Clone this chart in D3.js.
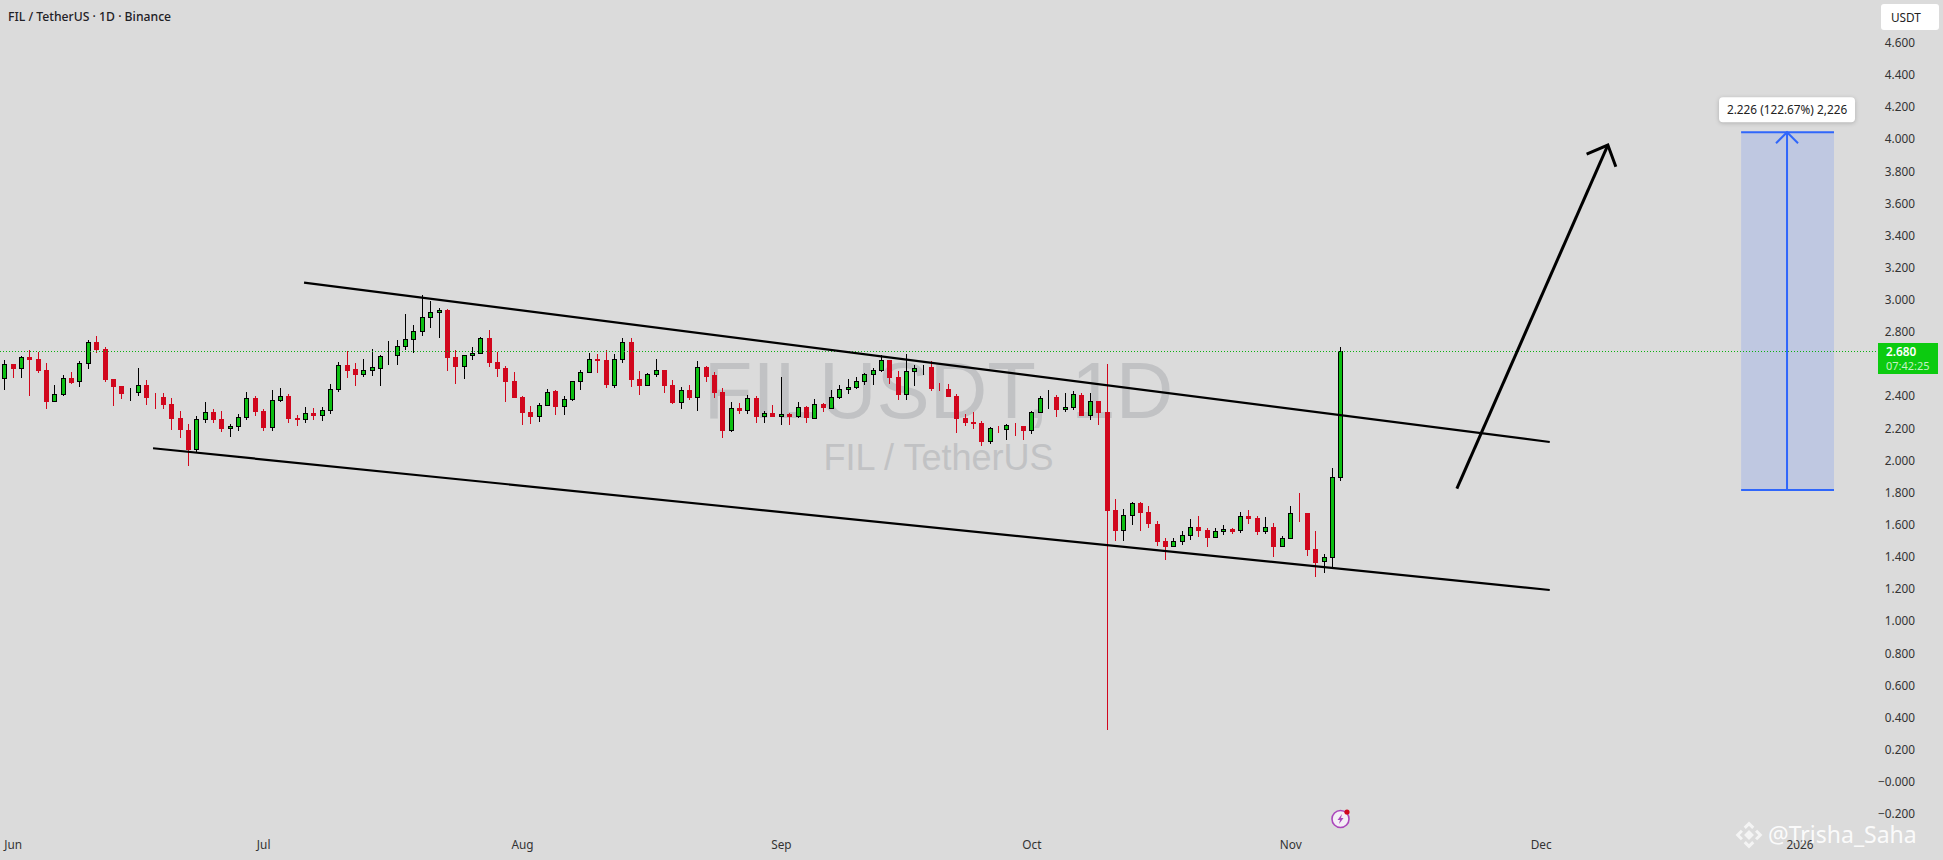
<!DOCTYPE html>
<html>
<head>
<meta charset="utf-8">
<title>FILUSDT</title>
<script src="https://cdn.jsdelivr.net/npm/d3@7/dist/d3.min.js"></script>
<style>
html, body { margin: 0; padding: 0; background: #dbdbdb; overflow: hidden; }
svg { display: block; font-family: "Noto Sans", sans-serif; }
</style>
</head>
<body>
<div class="background"></div>
<script>
// daily candles, first one is 2025-05-31
var first_day = "2025-05-31T00:00:00Z";

var open_values = [
    2.509,2.599,2.572,2.642,2.630,2.561,2.366,2.410,2.512,2.491,2.603,2.738,2.692,2.507,2.464,2.422,2.422,2.470,2.395,2.395,
    2.352,2.265,2.190,2.066,2.254,2.302,2.258,2.198,2.211,2.267,2.389,2.308,2.205,2.373,2.402,2.265,2.254,2.296,2.279,2.310,
    2.441,2.594,2.570,2.532,2.559,2.572,2.650,2.650,2.706,2.750,2.802,2.889,2.920,2.937,2.644,2.584,2.653,2.665,2.762,2.613,
    2.576,2.495,2.395,2.302,2.273,2.341,2.433,2.335,2.379,2.491,2.547,2.632,2.626,2.466,2.628,2.738,2.507,2.466,2.532,2.563,
    2.470,2.360,2.439,2.391,2.582,2.532,2.426,2.186,2.327,2.310,2.389,2.271,2.296,2.271,2.290,2.271,2.333,2.261,2.352,2.323,
    2.389,2.441,2.453,2.491,2.534,2.559,2.626,2.520,2.410,2.553,2.572,2.582,2.449,2.445,2.402,2.265,2.240,2.234,2.115,2.202,
    2.192,2.221,2.213,2.186,2.298,2.391,2.395,2.316,2.329,2.408,2.279,2.370,2.302,1.692,1.562,1.657,1.736,1.680,1.605,1.499,
    1.464,1.495,1.532,1.586,1.568,1.520,1.557,1.574,1.564,1.655,1.642,1.557,1.586,1.464,1.514,1.674,1.674,1.450,1.371,1.396,
    1.893
];
var high_values = [
    2.626,2.599,2.648,2.688,2.675,2.605,2.468,2.530,2.549,2.617,2.748,2.775,2.704,2.507,2.464,2.451,2.576,2.501,2.420,2.420,
    2.389,2.308,2.227,2.277,2.364,2.321,2.308,2.227,2.288,2.426,2.402,2.321,2.439,2.451,2.414,2.283,2.333,2.327,2.333,2.476,
    2.611,2.682,2.607,2.632,2.694,2.657,2.744,2.750,2.912,2.843,3.030,2.993,2.949,2.943,2.688,2.657,2.706,2.769,2.812,2.675,
    2.588,2.551,2.402,2.339,2.358,2.445,2.439,2.402,2.495,2.563,2.669,2.663,2.688,2.663,2.762,2.762,2.557,2.545,2.632,2.563,
    2.501,2.458,2.470,2.619,2.588,2.551,2.451,2.364,2.358,2.408,2.402,2.308,2.346,2.520,2.296,2.364,2.339,2.383,2.358,2.439,
    2.470,2.507,2.520,2.545,2.576,2.657,2.626,2.557,2.663,2.594,2.594,2.619,2.482,2.476,2.414,2.290,2.302,2.246,2.209,2.215,
    2.227,2.234,2.215,2.308,2.401,2.439,2.408,2.420,2.433,2.420,2.420,2.370,2.601,1.761,1.698,1.742,1.742,1.717,1.624,1.518,
    1.518,1.562,1.636,1.655,1.580,1.580,1.599,1.580,1.680,1.692,1.655,1.649,1.611,1.530,1.717,1.798,1.674,1.562,1.418,1.954,
    2.706
];
var low_values = [
    2.439,2.514,2.514,2.402,2.545,2.321,2.366,2.402,2.476,2.458,2.570,2.669,2.489,2.339,2.383,2.370,2.402,2.346,2.321,2.321,
    2.190,2.140,1.966,2.053,2.234,2.234,2.178,2.146,2.184,2.252,2.277,2.184,2.184,2.364,2.234,2.215,2.234,2.252,2.246,2.290,
    2.426,2.514,2.464,2.520,2.526,2.464,2.594,2.594,2.688,2.669,2.775,2.825,2.762,2.557,2.476,2.507,2.626,2.663,2.582,2.520,
    2.364,2.389,2.221,2.227,2.240,2.339,2.283,2.283,2.370,2.439,2.545,2.545,2.451,2.451,2.607,2.458,2.408,2.464,2.520,2.420,
    2.352,2.321,2.377,2.308,2.489,2.389,2.140,2.178,2.290,2.290,2.234,2.234,2.271,2.221,2.221,2.265,2.234,2.258,2.302,2.321,
    2.383,2.414,2.445,2.470,2.470,2.551,2.476,2.377,2.377,2.464,2.532,2.433,2.433,2.395,2.171,2.215,2.196,2.090,2.103,2.171,
    2.128,2.153,2.128,2.165,2.298,2.321,2.271,2.302,2.314,2.277,2.252,2.221,0.323,1.499,1.499,1.599,1.562,1.580,1.468,1.381,
    1.462,1.474,1.506,1.524,1.462,1.518,1.537,1.543,1.549,1.605,1.537,1.543,1.400,1.462,1.512,1.618,1.406,1.275,1.300,1.331,
    1.873
];
var close_values = [
    2.599,2.570,2.642,2.626,2.557,2.366,2.412,2.512,2.482,2.605,2.735,2.688,2.501,2.458,2.414,2.426,2.468,2.389,2.391,2.346,
    2.258,2.190,2.066,2.256,2.300,2.252,2.196,2.213,2.269,2.387,2.302,2.202,2.375,2.400,2.258,2.252,2.294,2.277,2.312,2.443,
    2.592,2.557,2.532,2.561,2.580,2.648,2.657,2.711,2.754,2.804,2.891,2.922,2.935,2.638,2.582,2.655,2.667,2.760,2.607,2.570,
    2.489,2.389,2.296,2.271,2.344,2.424,2.333,2.381,2.493,2.549,2.630,2.619,2.470,2.630,2.735,2.501,2.464,2.536,2.561,2.464,
    2.358,2.437,2.389,2.580,2.520,2.420,2.184,2.325,2.308,2.387,2.271,2.294,2.271,2.287,2.271,2.331,2.265,2.350,2.327,2.393,
    2.443,2.456,2.493,2.536,2.563,2.624,2.514,2.408,2.555,2.574,2.578,2.445,2.445,2.395,2.258,2.234,2.227,2.115,2.200,2.196,
    2.219,2.215,2.184,2.300,2.387,2.395,2.314,2.331,2.412,2.277,2.368,2.296,1.686,1.562,1.659,1.734,1.674,1.605,1.493,1.462,
    1.497,1.535,1.584,1.562,1.518,1.559,1.572,1.555,1.653,1.636,1.555,1.584,1.462,1.516,1.671,1.667,1.443,1.362,1.398,1.895,
    2.680
];

var price_ticks = [4.6,4.4,4.2,4.0,3.8,3.6,3.4,3.2,3.0,2.8,2.4,2.2,2.0,1.8,1.6,1.4,1.2,1.0,0.8,0.6,0.4,0.2,0,-0.2];
var price_labels = ["4.600","4.400","4.200","4.000","3.800","3.600","3.400","3.200","3.000","2.800","2.400","2.200","2.000","1.800","1.600","1.400","1.200","1.000","0.800","0.600","0.400","0.200","\u22120.000","\u22120.200"];
var month_ticks = ["2025-06-01","2025-07-01","2025-08-01","2025-09-01","2025-10-01","2025-11-01","2025-12-01","2026-01-01"];
var month_labels = ["Jun","Jul","Aug","Sep","Oct","Nov","Dec","2026"];

// drawings, [date, price]
var upper_trend = [["2025-07-05T21:30:00Z",3.107],["2025-12-02T02:00:00Z",2.115]];
var lower_trend = [["2025-06-17T19:30:00Z",2.076],["2025-12-02T02:00:00Z",1.194]];
var up_arrow = [["2025-11-20T23:00:00Z",1.825],["2025-12-09T01:00:00Z",3.963]];
var up_arrow_head = [["2025-12-06T12:00:00Z",3.907],["2025-12-09T01:00:00Z",3.963],["2025-12-10T00:00:00Z",3.828]];
var range_dates = ["2025-12-25T00:00:00Z","2025-12-30T12:00:00Z","2026-01-05T03:00:00Z"];
var range_prices = [1.817,4.043];
var last_price = 2.680;

var available_width = 1943,
    available_height = 860,
    background_color = "#dbdbdb",
    up_color = "#0cbf12",
    down_color = "#d1071d",
    blue_color = "#2f66fb",
    axis_font_size = 11.8,
    body_half = 2;

var start_date = new Date(first_day),
    candle_dates = open_values.map(function(d, i) { return d3.utcDay.offset(start_date, i); });

var x_scale = d3.scaleUtc()
    .domain([start_date, candle_dates[candle_dates.length - 1]])
    .range([4.3, 1340.3]);

var y_scale = d3.scaleLinear()
    .domain([4.6, -0.2])
    .range([42.7, 814]);

var draw_line = d3.line()
    .x(function(d) { return x_scale(new Date(d[0])); })
    .y(function(d) { return y_scale(d[1]); });

var background_svg = d3.select(".background")
    .append("svg")
    .attr("width", available_width)
    .attr("height", available_height);

background_svg.append("rect")
    .attr("width", available_width)
    .attr("height", available_height)
    .attr("fill", background_color);

// symbol watermark
background_svg.append("text")
    .attr("x", 938.5).attr("y", 418)
    .attr("text-anchor", "middle")
    .attr("font-family", "Liberation Sans")
    .attr("font-size", 79.7)
    .attr("fill", "#c1c2c4")
    .text("FILUSDT, 1D");

background_svg.append("text")
    .attr("x", 938.5).attr("y", 470)
    .attr("text-anchor", "middle")
    .attr("font-family", "Liberation Sans")
    .attr("font-size", 36)
    .attr("fill", "#c1c2c4")
    .text("FIL / TetherUS");

// measured range box
var range_left = x_scale(new Date(range_dates[0])),
    range_mid = x_scale(new Date(range_dates[1])),
    range_right = x_scale(new Date(range_dates[2])),
    range_bottom = y_scale(range_prices[0]),
    range_top = y_scale(range_prices[1]);

background_svg.append("rect")
    .attr("x", range_left)
    .attr("y", range_top)
    .attr("width", range_right - range_left)
    .attr("height", range_bottom - range_top)
    .attr("fill", "#bfc8e1");

range_prices.forEach(function(p) {
    background_svg.append("line")
        .attr("x1", range_left).attr("x2", range_right)
        .attr("y1", y_scale(p)).attr("y2", y_scale(p))
        .attr("stroke", blue_color)
        .attr("stroke-width", 2);
});

background_svg.append("line")
    .attr("x1", range_mid).attr("x2", range_mid)
    .attr("y1", range_top).attr("y2", range_bottom)
    .attr("stroke", blue_color)
    .attr("stroke-width", 2);

background_svg.append("path")
    .attr("d", "M" + (range_mid - 11) + "," + (range_top + 11) + "L" + range_mid + "," + range_top + "L" + (range_mid + 11) + "," + (range_top + 11))
    .attr("fill", "none")
    .attr("stroke", blue_color)
    .attr("stroke-width", 2);

// candles
var candle_group = background_svg.append("g");

var candle = candle_group.selectAll("g")
    .data(open_values)
    .enter()
    .append("g")
    .attr("transform", function(d, i) { return "translate(" + Math.round(x_scale(candle_dates[i])) + ",0)"; });

candle.append("line")
    .attr("x1", 0.5).attr("x2", 0.5)
    .attr("y1", function(d, i) { return Math.round(y_scale(high_values[i])); })
    .attr("y2", function(d, i) { return Math.round(y_scale(low_values[i])); })
    .attr("shape-rendering", "crispEdges")
    .attr("stroke", function(d, i) { return close_values[i] >= d ? "#000" : down_color; });

candle.append("rect")
    .attr("x", -body_half + 0.5)
    .attr("width", body_half * 2)
    .attr("y", function(d, i) { return Math.round(y_scale(Math.max(d, close_values[i]))) + 0.5; })
    .attr("height", function(d, i) {
        return Math.max(0, Math.round(y_scale(Math.min(d, close_values[i]))) - Math.round(y_scale(Math.max(d, close_values[i]))) - 1);
    })
    .attr("shape-rendering", "crispEdges")
    .attr("fill", function(d, i) { return close_values[i] >= d ? up_color : down_color; })
    .attr("stroke", function(d, i) { return close_values[i] >= d ? "#000" : down_color; });

// last price line
background_svg.append("line")
    .attr("x1", 0).attr("x2", 1878)
    .attr("y1", Math.round(y_scale(last_price)) + 0.5)
    .attr("y2", Math.round(y_scale(last_price)) + 0.5)
    .attr("stroke", "#0bb010")
    .attr("stroke-dasharray", "1 2");

// hand drawn lines
[upper_trend, lower_trend].forEach(function(points) {
    background_svg.append("path")
        .attr("d", draw_line(points))
        .attr("fill", "none")
        .attr("stroke", "#000")
        .attr("stroke-width", 2.2);
});

[up_arrow, up_arrow_head].forEach(function(points) {
    background_svg.append("path")
        .attr("d", draw_line(points))
        .attr("fill", "none")
        .attr("stroke", "#000")
        .attr("stroke-width", 3);
});

// price axis
var y_axis = d3.axisRight(y_scale)
    .tickValues(price_ticks)
    .tickSize(0)
    .tickFormat(function(d, i) { return price_labels[i]; });

var y_axis_group = background_svg.append("g")
    .attr("transform", "translate(1915,0)")
    .call(y_axis);
y_axis_group.select(".domain").remove();
y_axis_group.selectAll("text")
    .attr("x", 0)
    .attr("text-anchor", "end")
    .attr("font-family", "Noto Sans")
    .attr("font-size", axis_font_size)
    .attr("fill", "#333");

// time axis
var x_axis = d3.axisBottom(x_scale)
    .tickValues(month_ticks.map(function(d) { return new Date(d + "T00:00:00Z"); }))
    .tickSize(0)
    .tickPadding(0)
    .tickFormat(function(d, i) { return month_labels[i]; });

var x_axis_group = background_svg.append("g")
    .attr("transform", "translate(0,841)")
    .call(x_axis);
x_axis_group.select(".domain").remove();
x_axis_group.selectAll("text")
    .attr("font-family", "Noto Sans")
    .attr("font-size", axis_font_size)
    .attr("fill", "#333");

// title
background_svg.append("text")
    .attr("x", 8).attr("y", 20.5)
    .attr("font-family", "Noto Sans")
    .attr("font-weight", 500)
    .attr("font-size", 12.2)
    .attr("fill", "#1f2126")
    .text("FIL / TetherUS \u00b7 1D \u00b7 Binance");

// currency box
background_svg.append("rect")
    .attr("x", 1881).attr("y", 4)
    .attr("width", 58).attr("height", 26)
    .attr("rx", 3)
    .attr("fill", "#fff");
background_svg.append("text")
    .attr("x", 1891).attr("y", 21.5)
    .attr("font-family", "Noto Sans")
    .attr("font-size", axis_font_size)
    .attr("fill", "#222")
    .text("USDT");

// range label
background_svg.append("rect")
    .attr("x", range_mid - 68).attr("y", range_top - 35)
    .attr("width", 136).attr("height", 25)
    .attr("rx", 4)
    .attr("fill", "#fff")
    .attr("style", "filter: drop-shadow(0 1px 2px rgba(0,0,0,.2))");
background_svg.append("text")
    .attr("x", range_mid).attr("y", range_top - 18.5)
    .attr("text-anchor", "middle")
    .attr("font-family", "Noto Sans")
    .attr("font-size", axis_font_size)
    .attr("fill", "#222")
    .text("2.226 (122.67%) 2,226");

// last price tag
background_svg.append("rect")
    .attr("x", 1878).attr("y", 343)
    .attr("width", 60).attr("height", 31)
    .attr("fill", "#0ccb10");
background_svg.append("text")
    .attr("x", 1886).attr("y", 356)
    .attr("font-family", "Noto Sans")
    .attr("font-weight", 600)
    .attr("font-size", axis_font_size)
    .attr("fill", "#fff")
    .text("2.680");
background_svg.append("text")
    .attr("x", 1886).attr("y", 369.5)
    .attr("font-family", "Noto Sans")
    .attr("font-size", 11)
    .attr("fill", "#c4f2c4")
    .text("07:42:25");

// news icon
var icon = background_svg.append("g").attr("transform", "translate(1340.5,819)");
icon.append("circle").attr("r", 8.5).attr("fill", "#f4eef6").attr("stroke", "#ab47bc").attr("stroke-width", 1.6);
icon.append("path").attr("d", "M1.5,-5L-3,1L-0.5,1L-1.5,5L3,-1L0.5,-1Z").attr("fill", "#ab47bc");
icon.append("circle").attr("cx", 6.5).attr("cy", -7).attr("r", 2.6).attr("fill", "#d1071d");

// author watermark
var logo = background_svg.append("g")
    .attr("transform", "translate(1749,835) rotate(45)")
    .attr("fill", "none")
    .attr("stroke", "#f4f4f4")
    .attr("stroke-width", 3);
logo.append("rect").attr("x", -3.5).attr("y", -3.5).attr("width", 7).attr("height", 7).attr("fill", "#f4f4f4").attr("stroke", "none");
logo.append("path").attr("d", "M-2,-8L-8,-8L-8,-2");
logo.append("path").attr("d", "M2,8L8,8L8,2");
logo.append("path").attr("d", "M2,-8L8,-8L8,-2");
logo.append("path").attr("d", "M-2,8L-8,8L-8,2");

background_svg.append("text")
    .attr("x", 1768).attr("y", 843)
    .attr("font-family", "Noto Sans")
    .attr("font-size", 23)
    .attr("fill", "#fff")
    .attr("fill-opacity", 0.9)
    .text("@Trisha_Saha");
</script>
</body>
</html>
